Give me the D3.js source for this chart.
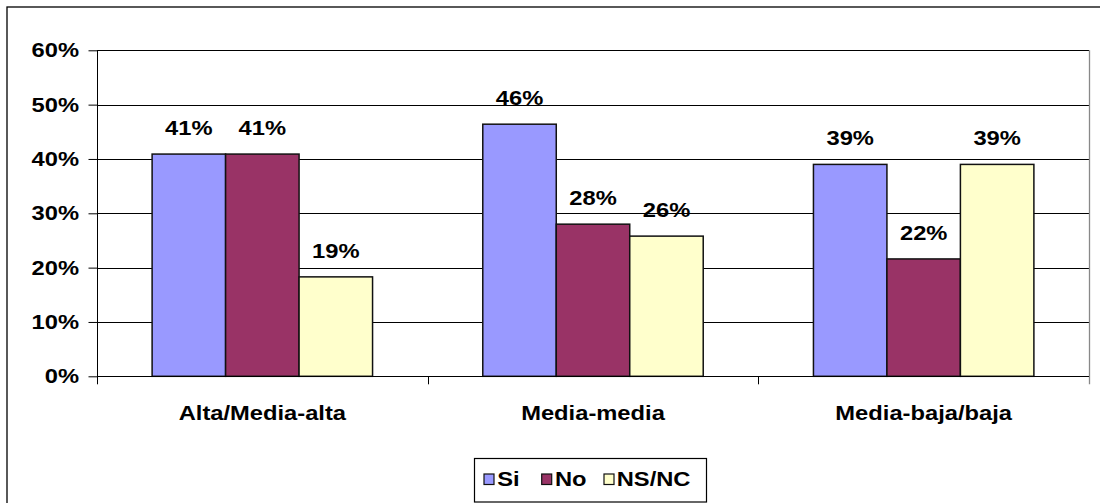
<!DOCTYPE html>
<html>
<head>
<meta charset="utf-8">
<script src="https://cdn.jsdelivr.net/npm/d3@7"></script>
<style>
  html, body { margin: 0; padding: 0; background: #fff; }
  svg { display: block; }
  text { font-family: "Liberation Sans", Arial, sans-serif; font-weight: bold; fill: #000; }
</style>
</head>
<body>
<svg id="chart" width="1100" height="503"></svg>
<script>
const categories = ["Alta/Media-alta", "Media-media", "Media-baja/baja"];
const seriesNames = ["Si", "No", "NS/NC"];
const siValues   = [0.409, 0.464, 0.390];
const noValues   = [0.409, 0.280, 0.216];
const nsncValues = [0.183, 0.258, 0.390];
const siLabels   = ["41%", "46%", "39%"];
const noLabels   = ["41%", "28%", "22%"];
const nsncLabels = ["19%", "26%", "39%"];
const yTicks = [0, 0.1, 0.2, 0.3, 0.4, 0.5, 0.6];
const colors = ["#9999FF", "#993366", "#FFFFCC"];

(function () {
const values = [siValues, noValues, nsncValues];
const labels = [siLabels, noLabels, nsncLabels];

const SX = 1.13, FS = 21;
const svg = d3.select("#chart");

// outer chart border
svg.append("rect").attr("x", 7).attr("y", 7).attr("width", 1100).attr("height", 510)
  .attr("fill", "none").attr("stroke", "#000").attr("stroke-width", 1.3);

const pL = 97, pR = 1089, pT = 50.3, pB = 376.3;
const y = d3.scaleLinear().domain([0, 0.6]).range([pB, pT]);
const x0 = d3.scaleBand().domain(categories).range([pL, pR]).padding(0);
const x1 = d3.scaleBand().domain(seriesNames).range([0, x0.bandwidth()]).paddingInner(0).paddingOuter(0.75);

function stext(g, str, xx, yy, anchor) {
  return g.append("text").text(str)
    .attr("text-anchor", anchor)
    .attr("font-size", FS)
    .attr("transform", `translate(${xx},${yy}) scale(${SX},1)`);
}

// gridlines
svg.append("g").selectAll("line").data(yTicks.filter(d => d > 0)).join("line")
  .attr("x1", pL).attr("x2", pR)
  .attr("y1", d => Math.round(y(d)) + 0.5).attr("y2", d => Math.round(y(d)) + 0.5)
  .attr("stroke", "#000").attr("stroke-width", 1);

// right plot border
svg.append("line").attr("x1", pR + 0.5).attr("x2", pR + 0.5).attr("y1", pT).attr("y2", pB + 8)
  .attr("stroke", "#888").attr("stroke-width", 1.3);

// y axis
const yAxis = d3.axisLeft(y).tickValues(yTicks).tickSize(9).tickFormat("");
const gy = svg.append("g").attr("transform", `translate(${pL + 0.5},0)`).call(yAxis);
gy.select(".domain").remove();
gy.selectAll(".tick line").attr("stroke", "#000");
svg.append("line").attr("x1", pL + 0.5).attr("x2", pL + 0.5).attr("y1", pT).attr("y2", pB + 8)
  .attr("stroke", "#000").attr("stroke-width", 1);
const gyl = svg.append("g");
yTicks.forEach(t => stext(gyl, d3.format(".0%")(t), 79, y(t) + 7, "end"));

// bars
const gb = svg.append("g");
categories.forEach((c, i) => {
  seriesNames.forEach((s, j) => {
    const v = values[j][i];
    gb.append("rect")
      .attr("x", x0(c) + x1(s))
      .attr("y", y(v))
      .attr("width", x1.bandwidth())
      .attr("height", y(0) - y(v))
      .attr("fill", colors[j])
      .attr("stroke", "#111").attr("stroke-width", 1.5);
  });
});

// x axis line & ticks
svg.append("line").attr("x1", pL).attr("x2", pR).attr("y1", Math.round(pB) + 0.5).attr("y2", Math.round(pB) + 0.5)
  .attr("stroke", "#000").attr("stroke-width", 1);
const xTickPos = categories.map(c => x0(c)).slice(1);
svg.append("g").selectAll("line").data(xTickPos).join("line")
  .attr("x1", d => Math.round(d) + 0.5).attr("x2", d => Math.round(d) + 0.5)
  .attr("y1", pB).attr("y2", pB + 8)
  .attr("stroke", "#000").attr("stroke-width", 1);

// category labels
const gc = svg.append("g");
categories.forEach(c => stext(gc, c, x0(c) + x0.bandwidth() / 2, 420, "middle"));

// value labels
const gl = svg.append("g");
categories.forEach((c, i) => {
  seriesNames.forEach((s, j) => {
    const v = values[j][i];
    stext(gl, labels[j][i], x0(c) + x1(s) + x1.bandwidth() / 2, y(v) - 19.3, "middle");
  });
});

// legend
const lg = svg.append("g");
lg.append("rect").attr("x", 474.5).attr("y", 458.5).attr("width", 232).attr("height", 43.5)
  .attr("fill", "#fff").attr("stroke", "#000").attr("stroke-width", 1.2);
const legendSwatchX = [484, 541.7, 604];
const legendTextX = [497.3, 555, 616.7];
seriesNames.forEach((s, j) => {
  lg.append("rect").attr("x", legendSwatchX[j]).attr("y", 474).attr("width", 10).attr("height", 10.5)
    .attr("fill", colors[j]).attr("stroke", "#111").attr("stroke-width", 1.2);
  stext(lg, s, legendTextX[j], 486, "start");
});
})();
</script>
</body>
</html>
